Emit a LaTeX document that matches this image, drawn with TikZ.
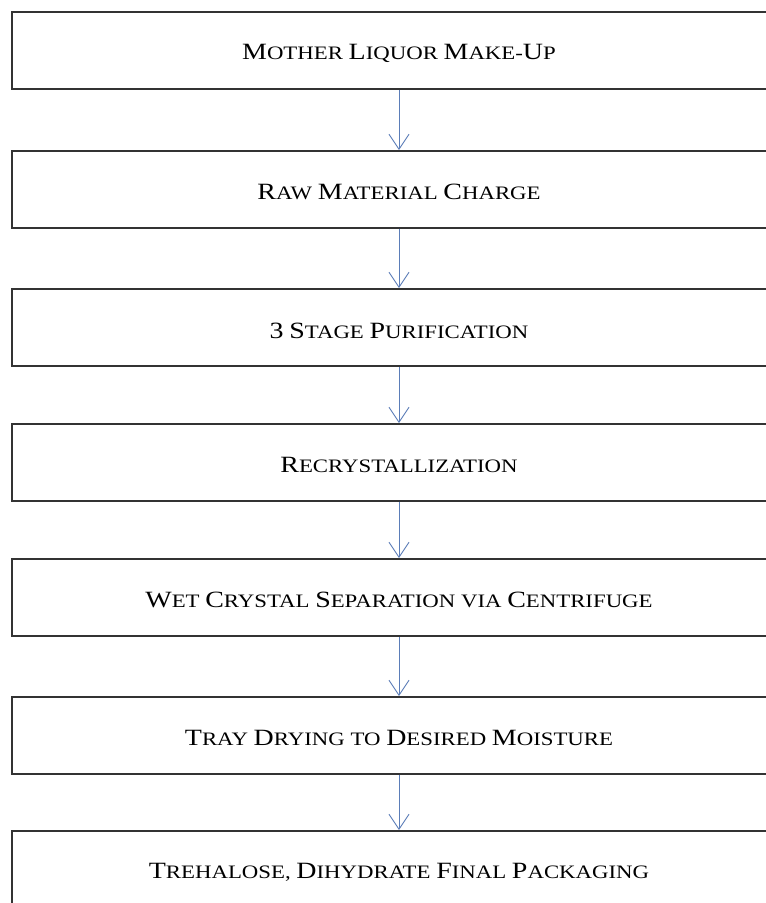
\documentclass[tikz,border=0pt]{standalone}
\usepackage{fontspec}
\setmainfont[FakeStretch=1.2]{Liberation Serif}
\usetikzlibrary{arrows.meta}
\newcommand\bigc[1]{{\fontsize{23.3}{24}\selectfont #1}}
\newcommand\smc[1]{{\fontsize{19}{24}\selectfont #1}}
\definecolor{boxline}{HTML}{333333}
\definecolor{arrowc}{HTML}{5B7DB8}
\tikzset{
  stepbox/.style={draw=boxline, line width=1.8pt, rectangle, minimum width=774pt,
    minimum height=77pt, inner sep=0pt, font=\fontsize{19}{24}\selectfont, anchor=north},
  steptext/.style={inner sep=0pt, font=\fontsize{19}{24}\selectfont},
  flow/.style={draw=arrowc, line width=0.9pt, -{Straight Barb[length=15pt,width=20pt,line width=0.9pt]}}
}
\begin{document}
\begin{tikzpicture}[x=1pt,y=-1pt]
\path[use as bounding box] (0,0) rectangle (766,903);
\clip (0,0) rectangle (766,903);
\fill[white] (0,0) rectangle (766,903);
\foreach \n/\t in {b1/11,b2/150,b3/288,b4/423,b5/558,b6/696,b7/830}
  \node[stepbox] (\n) at (399,\t) {};
\node[steptext] (t1) at ([yshift=-3pt]b1.center) {\bigc{M}\smc{OTHER} \bigc{L}\smc{IQUOR} \bigc{M}\smc{AKE}-\bigc{U}\smc{P}};
\node[steptext] (t2) at ([yshift=-3pt]b2.center) {\bigc{R}\smc{AW} \bigc{M}\smc{ATERIAL} \bigc{C}\smc{HARGE}};
\node[steptext] (t3) at ([yshift=-3pt]b3.center) {\bigc{3} \bigc{S}\smc{TAGE} \bigc{P}\smc{URIFICATION}};
\node[steptext] (t4) at ([yshift=-3pt]b4.center) {\bigc{R}\smc{ECRYSTALLIZATION}};
\node[steptext] (t5) at ([yshift=-3pt]b5.center) {\bigc{W}\smc{ET} \bigc{C}\smc{RYSTAL} \bigc{S}\smc{EPARATION} \smc{VIA} \bigc{C}\smc{ENTRIFUGE}};
\node[steptext] (t6) at ([yshift=-3pt]b6.center) {\bigc{T}\smc{RAY} \bigc{D}\smc{RYING} \smc{TO} \bigc{D}\smc{ESIRED} \bigc{M}\smc{OISTURE}};
\node[steptext] (t7) at ([yshift=-3pt]b7.center) {\bigc{T}\smc{REHALOSE}, \bigc{D}\smc{IHYDRATE} \bigc{F}\smc{INAL} \bigc{P}\smc{ACKAGING}};
\foreach \a/\b in {b1/b2,b2/b3,b3/b4,b4/b5,b5/b6,b6/b7}
  \draw[flow] (\a.south) -- (\b.north);
\end{tikzpicture}
\end{document}
